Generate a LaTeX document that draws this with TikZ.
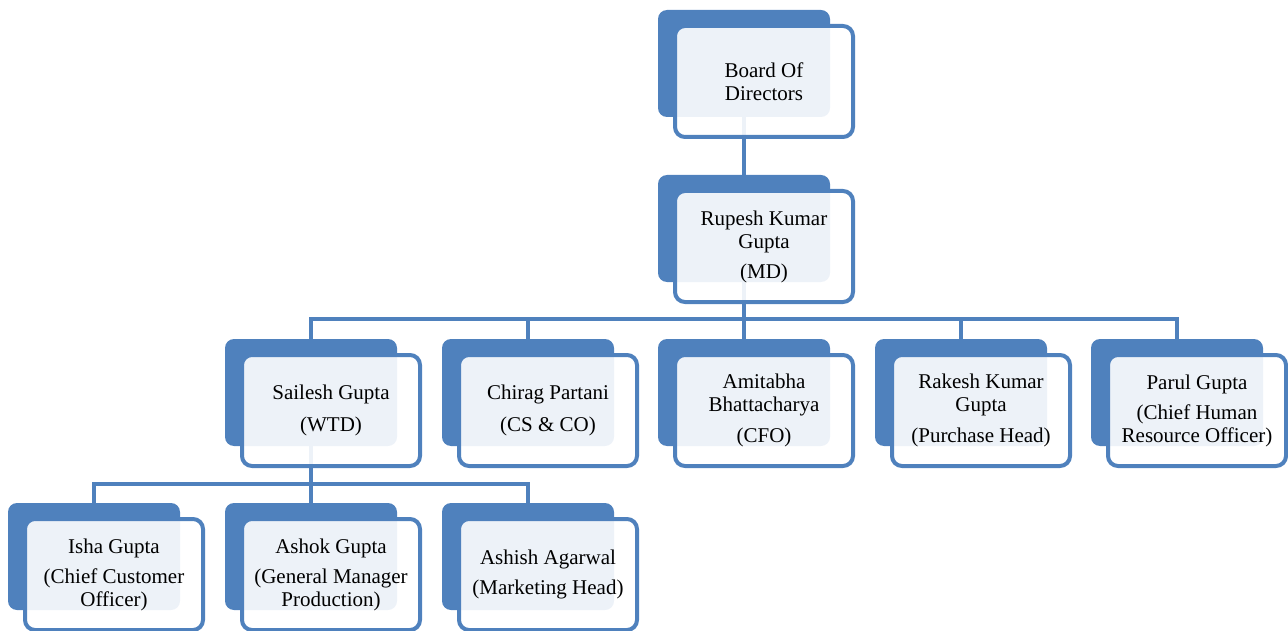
\documentclass[tikz,border=0pt]{standalone}
\usepackage{fontspec}
\setmainfont{Liberation Serif}
\definecolor{orgblue}{HTML}{4F81BD}
\begin{document}
\begin{tikzpicture}[x=1pt,y=-1pt,
  backbox/.style={fill=orgblue, draw=none, rounded corners=9pt, minimum width=172pt, minimum height=107pt, inner sep=0pt, outer sep=0pt},
  frontbox/.style={draw=orgblue, line width=4pt, fill=white, fill opacity=0.9, text opacity=1, draw opacity=1, rounded corners=10pt, minimum width=178pt, minimum height=111pt, inner sep=0pt, outer sep=0pt, align=center, font=\fontsize{21}{23}\selectfont, text=black},
  conn/.style={draw=orgblue, line width=4.5pt}]
\useasboundingbox (0,0) rectangle (1288,631);
% back boxes
\node[backbox] (bodb) at (744,63.5) {};
\node[backbox] (mdb)  at (744,228.5) {};
\node[backbox] (sb)   at (311,392.5) {};
\node[backbox] (cb)   at (528,392.5) {};
\node[backbox] (ab)   at (744,392.5) {};
\node[backbox] (rb)   at (961,392.5) {};
\node[backbox] (pb)   at (1177,392.5) {};
\node[backbox] (ib)   at (94,556.5) {};
\node[backbox] (akb)  at (311,556.5) {};
\node[backbox] (agb)  at (528,556.5) {};
% connectors
\coordinate (bus1) at (744,319);
\coordinate (bus2) at (311,484);
\draw[conn] (bodb.south) -- (mdb.north);
\draw[conn] (mdb.south) -- (bus1);
\draw[conn] (bus1) -| (sb.north);
\draw[conn] (bus1) -| (cb.north);
\draw[conn] (bus1) -- (ab.north);
\draw[conn] (bus1) -| (rb.north);
\draw[conn] (bus1) -| (pb.north);
\draw[conn] (sb.south) -- (bus2);
\draw[conn] (bus2) -| (ib.north);
\draw[conn] (bus2) -- (akb.north);
\draw[conn] (bus2) -| (agb.north);
% front boxes
\node[frontbox] (bod) at (764,81.5) {Board Of\\Directors};
\node[frontbox] (md)  at (764,246.5) {Rupesh Kumar\\Gupta\\[7pt](MD)};
\node[frontbox] (s)   at (331,410.5) {Sailesh Gupta\\[9pt](WTD)};
\node[frontbox] (c)   at (548,410.5) {Chirag Partani\\[9pt](CS \& CO)};
\node[frontbox] (a)   at (764,410.5) {Amitabha\\Bhattacharya\\[8pt](CFO)};
\node[frontbox] (r)   at (981,410.5) {Rakesh Kumar\\Gupta\\[8pt](Purchase Head)};
\node[frontbox] (p)   at (1197,410.5) {Parul Gupta\\[7pt](Chief Human\\Resource Officer)};
\node[frontbox] (i)   at (114,574.5) {Isha Gupta\\[7pt](Chief Customer\\Officer)};
\node[frontbox] (ak)  at (331,574.5) {Ashok Gupta\\[7pt](General Manager\\Production)};
\node[frontbox] (ag)  at (548,574.5) {Ashish Agarwal\\[7pt](Marketing Head)};
\end{tikzpicture}
\end{document}
